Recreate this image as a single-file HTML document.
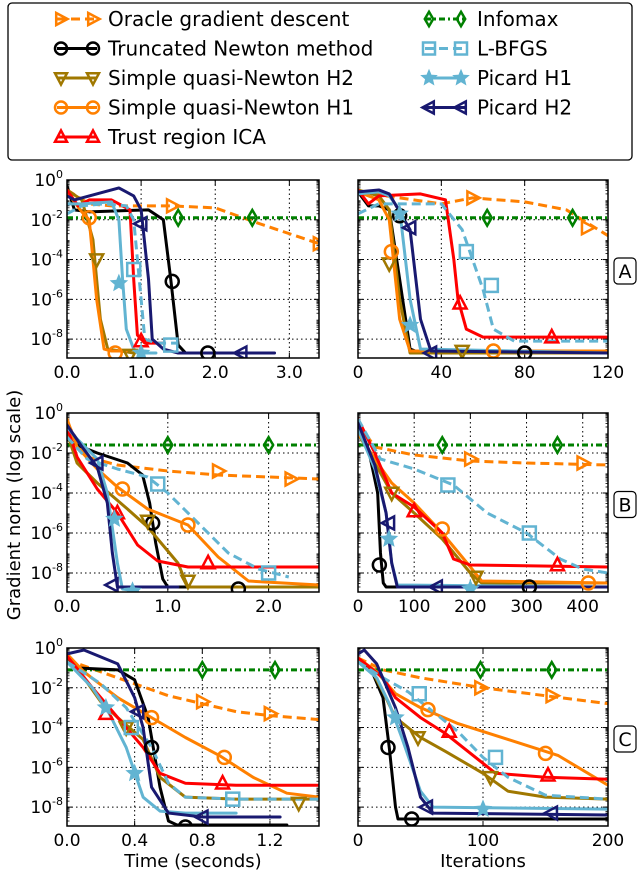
<!DOCTYPE html>
<html><head><meta charset="utf-8"><style>
body{margin:0;background:#fff;width:640px;height:876px;overflow:hidden;font-family:"Liberation Sans","DejaVu Sans",sans-serif}
svg text{font-family:"DejaVu Sans","Liberation Sans",sans-serif}
</style></head><body>
<svg id="chart" width="640" height="876" viewBox="0 0 640 876" xmlns="http://www.w3.org/2000/svg"></svg>
<script>
// ---- data: log10(gradient norm) per series per panel: [x, log10 y] ----
const seriesNames = ["oracle","infomax","tn","sqn2","sqn1","tr","lbfgs","pic1","pic2"];
const legendOrder = ["oracle","tn","sqn2","sqn1","tr","infomax","lbfgs","pic1","pic2"];
const legendLabels = ["Oracle gradient descent","Truncated Newton method","Simple quasi-Newton H2","Simple quasi-Newton H1","Trust region ICA","Infomax","L-BFGS","Picard H1","Picard H2"];
const xTicksA_time = [0,1,2,3];
const xTicksA_iter = [0,40,80,120];
const xTicksB_time = [0,1,2];
const xTicksB_iter = [0,100,200,300,400];
const xTicksC_time = [0,0.4,0.8,1.2];
const xTicksC_iter = [0,100,200];
const yTicks = [0,-2,-4,-6,-8];

const A_time = {
 oracle:[[0,-0.5],[0.3,-1.2],[0.6,-1.3],[1.4,-1.3],[2.0,-1.4],[2.6,-2.2],[3.4,-3.2]],
 infomax:[[0,-1.9],[3.4,-1.9]],
 tn:[[0,-0.3],[0.1,-1.5],[0.3,-1.6],[1.1,-1.5],[1.3,-2],[1.4,-5],[1.5,-8.3],[1.6,-8.7],[2.0,-8.7]],
 sqn2:[[0,-0.5],[0.2,-1.0],[0.35,-3],[0.45,-7],[0.55,-8.5],[0.9,-8.7]],
 sqn1:[[0,-0.6],[0.2,-1.6],[0.3,-2],[0.4,-6],[0.5,-8.5],[0.6,-8.6],[0.8,-8.6]],
 tr:[[0,-0.5],[0.15,-1.3],[0.3,-1],[0.6,-1],[0.85,-1.5],[0.9,-5],[0.95,-7.8],[1.05,-8.2],[1.3,-8.2]],
 lbfgs:[[0,-1.7],[0.2,-1.3],[0.5,-1.2],[0.8,-1.3],[0.9,-2],[1.0,-6],[1.05,-8],[1.2,-8.2],[1.5,-8.2]],
 pic1:[[0,-1.2],[0.2,-1.2],[0.6,-1.1],[0.7,-2],[0.75,-5],[0.8,-7.5],[0.9,-8.5],[1.0,-8.7],[1.2,-8.7]],
 pic2:[[0,-0.8],[0.1,-1],[0.4,-0.7],[0.7,-0.4],[0.9,-0.8],[1.0,-1.5],[1.1,-5],[1.15,-8],[1.3,-8.5],[1.5,-8.7],[2.8,-8.7]]};
const A_timeMarks = {oracle:[[1.42,-1.3],[3.4,-3.2]],infomax:[[1.5,-1.9],[2.5,-1.9]],tn:[[1.42,-5.1],[1.9,-8.7]],sqn2:[[0.4,-4],[0.85,-8.8]],sqn1:[[0.3,-1.9],[0.65,-8.7]],tr:[[1.0,-8.1]],lbfgs:[[0.9,-4.5],[1.4,-8.3]],pic1:[[0.7,-5.2],[1.0,-8.7]],pic2:[[1.0,-2.2],[2.35,-8.7]]};

const A_iter = {
 oracle:[[0,-0.6],[40,-1.2],[55,-0.9],[80,-1.1],[100,-1.5],[120,-2.8]],
 infomax:[[0,-1.9],[120,-1.9]],
 tn:[[0,-0.6],[5,-1.3],[10,-1.3],[15,-1.5],[20,-5],[25,-8.5],[30,-8.7],[120,-8.7]],
 sqn2:[[0,-0.5],[10,-0.8],[15,-1.5],[20,-6],[25,-8.7],[120,-8.7]],
 sqn1:[[0,-0.6],[10,-1],[15,-2],[20,-7],[25,-8.6],[120,-8.6]],
 tr:[[0,-0.5],[5,-1.2],[10,-0.8],[30,-0.7],[42,-1],[46,-4],[48,-6],[52,-7.5],[60,-7.9],[120,-7.9]],
 lbfgs:[[0,-1.7],[10,-1.2],[40,-1.2],[50,-2.5],[60,-5.5],[65,-7.5],[75,-8.1],[120,-8.1]],
 pic1:[[0,-0.7],[10,-0.6],[15,-0.8],[20,-1.5],[25,-6],[30,-8.5],[120,-8.7]],
 pic2:[[0,-0.6],[10,-0.5],[15,-0.7],[25,-2.5],[30,-7],[35,-8.6],[120,-8.7]]};
const A_iterMarks = {oracle:[[55,-0.9],[110,-2.4]],infomax:[[62,-1.9],[103,-1.9]],tn:[[20,-1.8],[80,-8.7]],sqn2:[[15,-4.2],[50,-8.6]],sqn1:[[16,-3.6],[65,-8.6]],tr:[[49,-6.2],[93,-7.9]],lbfgs:[[52,-3.6],[64,-5.3]],pic1:[[20,-1.7],[25,-7.3]],pic2:[[25,-2.4],[35,-8.7]]};

const B_time = {
 oracle:[[0,-0.5],[0.2,-2.2],[0.5,-2.6],[1.0,-2.9],[1.5,-3.1],[2.5,-3.3]],
 infomax:[[0,-1.6],[2.5,-1.6]],
 tn:[[0,-1.3],[0.1,-1.6],[0.3,-2],[0.6,-2.5],[0.75,-3.1],[0.82,-4.5],[0.88,-6.5],[0.95,-8.3],[1.0,-8.7],[2.5,-8.7]],
 sqn2:[[0,-1],[0.1,-2.5],[0.3,-3.5],[0.6,-4.8],[0.8,-5.7],[1.1,-7.5],[1.2,-8.7],[2.5,-8.7]],
 sqn1:[[0,-0.3],[0.1,-1.7],[0.3,-2.8],[0.5,-3.7],[0.8,-4.8],[1.2,-5.6],[1.5,-7.2],[1.8,-8.4],[2.5,-8.6]],
 tr:[[0,-0.7],[0.1,-2.2],[0.3,-3.8],[0.5,-5],[0.7,-6.6],[0.9,-7.4],[1.2,-7.7],[2.5,-7.7]],
 lbfgs:[[0,-1.2],[0.2,-2.3],[0.5,-2.8],[0.8,-3.2],[1.0,-4.0],[1.3,-5.5],[1.6,-7],[1.9,-7.8],[2.2,-8.2]],
 pic1:[[0,-0.7],[0.1,-1.3],[0.3,-2.3],[0.4,-4],[0.5,-7.5],[0.55,-8.8],[0.7,-8.9]],
 pic2:[[0,-0.6],[0.15,-1.7],[0.3,-2.7],[0.4,-4.5],[0.45,-7],[0.5,-8.7],[1.1,-8.7]]};
const B_timeMarks = {oracle:[[1.5,-2.9],[2.22,-3.3]],infomax:[[1.0,-1.6],[2.0,-1.6]],tn:[[0.85,-5.5],[1.7,-8.8]],sqn2:[[0.8,-5.4],[1.2,-8.4]],sqn1:[[0.55,-3.8],[1.2,-5.6]],tr:[[0.5,-5],[1.4,-7.5]],lbfgs:[[0.9,-3.55],[2.0,-8.0]],pic1:[[0.47,-5.3],[0.65,-8.9]],pic2:[[0.3,-2.5],[0.45,-8.6]]};

const B_iter = {
 oracle:[[0,-0.5],[30,-1.7],[100,-2.1],[200,-2.4],[300,-2.5],[445,-2.6]],
 infomax:[[0,-1.6],[445,-1.6]],
 tn:[[0,-0.7],[20,-2],[35,-4],[40,-7],[45,-8.5],[50,-8.7],[445,-8.7]],
 sqn2:[[0,-1],[30,-2.5],[60,-4],[100,-5],[150,-6.3],[200,-8],[220,-8.5],[445,-8.5]],
 sqn1:[[0,-1],[30,-2.3],[60,-3.5],[100,-4.5],[150,-6],[200,-7.7],[220,-8.4],[445,-8.5]],
 tr:[[0,-0.3],[30,-2],[60,-4],[100,-4.7],[150,-6],[170,-7.3],[200,-7.6],[445,-7.7]],
 lbfgs:[[0,-0.3],[40,-2.3],[100,-2.8],[170,-3.6],[230,-5],[300,-6],[360,-7.3],[400,-7.8],[445,-8]],
 pic1:[[0,-0.8],[30,-2.8],[50,-5],[60,-7.5],[70,-8.6],[445,-8.7]],
 pic2:[[0,-0.5],[30,-2.6],[50,-5],[60,-7.5],[70,-8.7],[445,-8.7]]};
const B_iterMarks = {oracle:[[200,-2.3],[400,-2.5]],infomax:[[150,-1.6],[355,-1.6]],tn:[[38,-7.6],[305,-8.7]],sqn2:[[60,-4],[210,-8.2]],sqn1:[[150,-5.8],[410,-8.5]],tr:[[100,-4.9],[355,-7.6]],lbfgs:[[160,-3.6],[305,-6]],pic1:[[55,-6.3],[200,-8.8]],pic2:[[55,-5.5],[140,-8.7]]};

const C_time = {
 oracle:[[0,-0.6],[0.2,-1.2],[0.4,-1.8],[0.6,-2.4],[0.8,-2.8],[1.0,-3.2],[1.2,-3.4],[1.49,-3.6]],
 infomax:[[0,-1.1],[1.49,-1.1]],
 tn:[[0,-0.4],[0.05,-1],[0.3,-1.1],[0.4,-1.6],[0.48,-3.5],[0.52,-5.5],[0.55,-7],[0.6,-8.7],[0.65,-8.9],[1.3,-8.9]],
 sqn2:[[0,-0.3],[0.1,-1.5],[0.2,-2.7],[0.3,-3.5],[0.45,-4.6],[0.55,-6.5],[0.7,-7.5],[1.0,-7.6],[1.49,-7.6]],
 sqn1:[[0,-0.3],[0.1,-1.2],[0.3,-2.5],[0.5,-3.5],[0.7,-4.5],[0.9,-5.4],[1.1,-6.5],[1.3,-7.3],[1.49,-7.5]],
 tr:[[0,-0.4],[0.15,-2],[0.3,-3.5],[0.45,-5],[0.55,-6.3],[0.7,-6.8],[1.0,-6.9],[1.49,-6.9]],
 lbfgs:[[0,-0.7],[0.2,-1.8],[0.35,-3],[0.5,-5],[0.6,-6.8],[0.7,-7.5],[1.0,-7.6],[1.49,-7.6]],
 pic1:[[0,-0.7],[0.15,-2],[0.25,-3.3],[0.35,-5],[0.45,-7.5],[0.55,-8.2],[0.7,-8.3],[1.0,-8.3]],
 pic2:[[0,-0.3],[0.1,-0.1],[0.3,-0.8],[0.4,-2.5],[0.45,-4],[0.5,-7],[0.6,-8.3],[0.8,-8.5],[1.26,-8.5]]};
const C_timeMarks = {oracle:[[0.8,-2.7],[1.2,-3.3]],infomax:[[0.8,-1.1],[1.23,-1.1]],tn:[[0.5,-5],[0.7,-9]],sqn2:[[0.35,-4],[1.37,-7.8]],sqn1:[[0.5,-3.5],[0.93,-5.5]],tr:[[0.23,-3.3],[0.92,-6.8]],lbfgs:[[0.38,-4],[0.98,-7.6]],pic1:[[0.23,-3],[0.4,-6.3]],pic2:[[0.42,-3.2],[0.8,-8.5]]};

const C_iter = {
 oracle:[[0,-0.5],[20,-1.1],[50,-1.5],[100,-2.0],[150,-2.4],[200,-2.8]],
 infomax:[[0,-1.1],[200,-1.1]],
 tn:[[0,-0.6],[10,-1],[20,-2.5],[25,-5],[30,-8],[32,-8.6],[200,-8.6]],
 sqn2:[[0,-0.5],[10,-1],[20,-2.2],[30,-3.5],[50,-4.5],[70,-5.2],[100,-6.3],[120,-7.2],[150,-7.5],[200,-7.6]],
 sqn1:[[0,-0.5],[15,-1.2],[30,-2.3],[50,-3],[80,-3.8],[120,-4.6],[160,-5.4],[200,-6.9]],
 tr:[[0,-0.5],[20,-1.5],[30,-2.5],[50,-3.5],[70,-4.3],[100,-5.8],[110,-6.3],[150,-6.5],[200,-6.6]],
 lbfgs:[[0,-0.7],[20,-1.5],[40,-2.2],[60,-3.2],[80,-4.2],[100,-5.5],[120,-6.5],[150,-7.4],[200,-7.6]],
 pic1:[[0,-0.7],[15,-1.5],[25,-2.8],[35,-4.5],[50,-7.2],[60,-8],[200,-8.1]],
 pic2:[[0,-0.3],[5,-0.1],[15,-0.8],[30,-3],[40,-5],[50,-7.5],[60,-8.3],[200,-8.4]]};
const C_iterMarks = {oracle:[[98,-2.0],[155,-2.4]],infomax:[[98,-1.1],[155,-1.1]],tn:[[24,-5],[43,-8.6]],sqn2:[[48,-4.5],[106,-6.5]],sqn1:[[56,-3.1],[150,-5.3]],tr:[[73,-4.2],[152,-6.4]],lbfgs:[[49,-2.3],[110,-5.5]],pic1:[[30,-3.5],[100,-8.1]],pic2:[[55,-8],[155,-8.3]]};

// ---- styles ----
const STY = {
 oracle:{c:"#ff8000",dash:"9,5",m:"tri-right"},
 infomax:{c:"#008000",dash:"6,3,2,3",m:"diamond"},
 tn:{c:"#000000",dash:"",m:"circle"},
 sqn2:{c:"#a07800",dash:"",m:"tri-down"},
 sqn1:{c:"#ff8000",dash:"",m:"circle"},
 tr:{c:"#ff0000",dash:"",m:"tri-up"},
 lbfgs:{c:"#62b4d2",dash:"9,5",m:"square"},
 pic1:{c:"#62b4d2",dash:"",m:"star"},
 pic2:{c:"#191970",dash:"",m:"tri-left"}};

const NS="http://www.w3.org/2000/svg";
const svg=document.getElementById('chart');
function el(tag,attrs,parent){const e=document.createElementNS(NS,tag);for(const k in attrs)e.setAttribute(k,attrs[k]);(parent||svg).appendChild(e);return e;}

function markerShape(type,cx,cy,col,parent,sz){
 const s=sz||6.5;let e;
 if(type==="circle") e=el('circle',{cx,cy,r:s},parent);
 else if(type==="square") e=el('rect',{x:cx-s,y:cy-s,width:2*s,height:2*s},parent);
 else {
  let pts;
  if(type==="tri-up") pts=[[0,-s*1.1],[s,s*0.8],[-s,s*0.8]];
  else if(type==="tri-down") pts=[[0,s*1.1],[s,-s*0.8],[-s,-s*0.8]];
  else if(type==="tri-right") pts=[[s*1.1,0],[-s*0.8,s],[-s*0.8,-s]];
  else if(type==="tri-left") pts=[[-s*1.1,0],[s*0.8,s],[s*0.8,-s]];
  else if(type==="diamond") pts=[[0,-s*1.2],[s*0.7,0],[0,s*1.2],[-s*0.7,0]];
  else { pts=[];for(let i=0;i<10;i++){const r=i%2?s*0.45:s;const a=-Math.PI/2+i*Math.PI/5;pts.push([r*Math.cos(a),r*Math.sin(a)]);} }
  e=el('polygon',{points:pts.map(p=>(cx+p[0])+","+(cy+p[1])).join(" ")},parent);
 }
 e.setAttribute('fill',type==="star"?col:"none");e.setAttribute('stroke',col);e.setAttribute('stroke-width',2.5);
 return e;
}

const panels=[
 {id:"a-time",lines:A_time,marks:A_timeMarks,x0:67,x1:319,y0:180,y1:358,xmax:3.4,ticks:xTicksA_time,fmt:v=>v.toFixed(1),left:true},
 {id:"a-iter",lines:A_iter,marks:A_iterMarks,x0:358,x1:608,y0:180,y1:358,xmax:120,ticks:xTicksA_iter,fmt:v=>String(v),left:false,tag:"A"},
 {id:"b-time",lines:B_time,marks:B_timeMarks,x0:67,x1:319,y0:413,y1:592,xmax:2.5,ticks:xTicksB_time,fmt:v=>v.toFixed(1),left:true},
 {id:"b-iter",lines:B_iter,marks:B_iterMarks,x0:358,x1:608,y0:413,y1:592,xmax:445,ticks:xTicksB_iter,fmt:v=>String(v),left:false,tag:"B"},
 {id:"c-time",lines:C_time,marks:C_timeMarks,x0:67,x1:319,y0:648,y1:826,xmax:1.49,ticks:xTicksC_time,fmt:v=>v.toFixed(1),left:true},
 {id:"c-iter",lines:C_iter,marks:C_iterMarks,x0:358,x1:608,y0:648,y1:826,xmax:200,ticks:xTicksC_iter,fmt:v=>String(v),left:false,tag:"C"}];
const YMIN=-8.95;

panels.forEach((p,pi)=>{
 const g=el('g',{});
 
 
 const sx=v=>p.x0+(v/p.xmax)*(p.x1-p.x0);
 const sy=v=>p.y0+(v/YMIN)*(p.y1-p.y0);
 const cid='clip'+pi;
 const cp=el('clipPath',{id:cid},g);el('rect',{x:p.x0,y:p.y0,width:p.x1-p.x0,height:p.y1-p.y0},cp);
 const grid=el('g',{stroke:"#000","stroke-width":1,"stroke-dasharray":"1.5,3"},g);
 
 
 yTicks.forEach(t=>{if(t<0)el('line',{x1:p.x0,x2:p.x1,y1:sy(t),y2:sy(t)},grid);});
 p.ticks.forEach(t=>{if(t>0&&t<p.xmax)el('line',{x1:sx(t),x2:sx(t),y1:p.y0,y2:p.y1},grid);});
 for(let d=0;d>-9;d--){for(let k=2;k<10;k++){const v=d-1+Math.log10(k);if(v<YMIN)continue;const y=sy(v);
   el('line',{x1:p.x0,x2:p.x0+2.5,y1:y,y2:y,stroke:"#000","stroke-width":0.8},g);
   el('line',{x1:p.x1,x2:p.x1-2.5,y1:y,y2:y,stroke:"#000","stroke-width":0.8},g);}}
 yTicks.forEach(t=>{const y=sy(t);
   el('line',{x1:p.x0,x2:p.x0+5,y1:y,y2:y,stroke:"#000","stroke-width":1},g);
   el('line',{x1:p.x1,x2:p.x1-5,y1:y,y2:y,stroke:"#000","stroke-width":1},g);
   if(p.left){const tx=el('text',{x:p.x0-4,y:y+6,"text-anchor":"end","font-size":17},g);
     
     
     tx.textContent="10";const ts=el('tspan',{dy:-8,"font-size":11},tx);ts.textContent=String(t);}});
 p.ticks.forEach(t=>{const x=sx(t);
   el('line',{x1:x,x2:x,y1:p.y1,y2:p.y1-5,stroke:"#000"},g);
   el('line',{x1:x,x2:x,y1:p.y0,y2:p.y0+5,stroke:"#000"},g);
   const tx=el('text',{x:x,y:p.y1+20,"text-anchor":"middle","font-size":17},g);
   
   
   tx.textContent=p.fmt(t);});
 const lg=el('g',{"clip-path":"url(#"+cid+")"},g);
 seriesNames.forEach(s=>{
   const st=STY[s];
   const pl=el('polyline',{points:p.lines[s].map(q=>sx(q[0])+","+sy(q[1])).join(" "),fill:"none",stroke:st.c,"stroke-width":3,"stroke-linejoin":"round","stroke-linecap":st.dash?"butt":"round","stroke-dasharray":st.dash},lg);
   
   
 });
 seriesNames.forEach(s=>{
   (p.marks[s]||[]).forEach(q=>{
     const m=markerShape(STY[s].m,sx(q[0]),sy(q[1]),STY[s].c,lg);
     
     
   });
 });
 const fr=el('rect',{x:p.x0,y:p.y0,width:p.x1-p.x0,height:p.y1-p.y0,fill:"none",stroke:"#000","stroke-width":1.5},g);
 
 
 if(p.tag){const cy=(p.y0+p.y1)/2+2;
   const b=el('rect',{x:614,y:cy-13,width:22,height:26,rx:4,fill:"#fff",stroke:"#000","stroke-width":1.2},g);
   
   
   const t=el('text',{x:625,y:cy+7,"text-anchor":"middle","font-size":19},g);
   
   
   t.textContent=p.tag;}
});

const yt=el('text',{x:0,y:0,"text-anchor":"middle","font-size":18,transform:"translate(20,505) rotate(-90)"});


yt.textContent="Gradient norm (log scale)";
const xt1=el('text',{x:193,y:867,"text-anchor":"middle","font-size":18});


xt1.textContent="Time (seconds)";
const xt2=el('text',{x:483,y:867,"text-anchor":"middle","font-size":18});


xt2.textContent="Iterations";

const lgd=el('g',{});


el('rect',{x:8,y:3,width:624,height:157,rx:4,fill:"#fff",stroke:"#000","stroke-width":1.3},lgd);
legendOrder.forEach((s,i)=>{
 const col=i<5?0:1;const row=i<5?i:i-5;
 const mx=col?425:57;const tx=col?477:108;const y=19+row*29.5;
 const e=el('g',{},lgd);
 
 
 const st=STY[s];
 el('line',{x1:mx,x2:mx+40,y1:y,y2:y,stroke:st.c,"stroke-width":3,"stroke-dasharray":st.dash},e);
 markerShape(st.m,mx+4,y,st.c,e,6);
 markerShape(st.m,mx+36,y,st.c,e,6);
 const t=el('text',{x:tx,y:y+7,"font-size":20},e);
 t.textContent=legendLabels[i];
});
</script>
</body></html>
